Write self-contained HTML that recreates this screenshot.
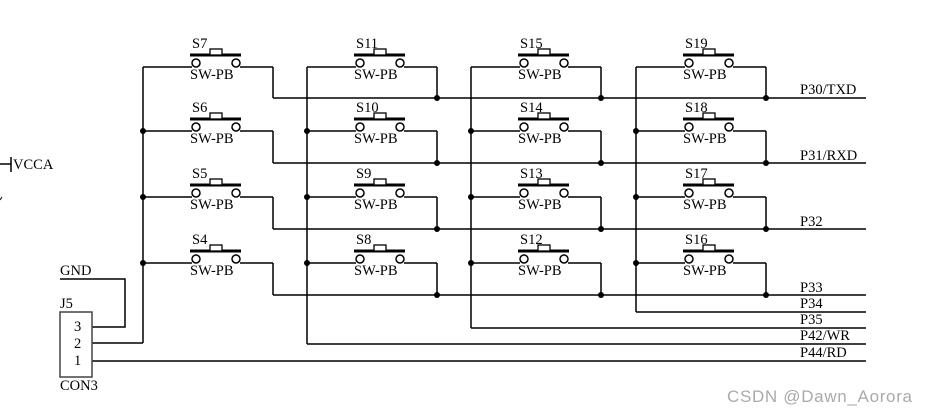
<!DOCTYPE html>
<html><head><meta charset="utf-8"><style>
html,body{margin:0;padding:0;background:#fff;}
svg{display:block;}
text{font-family:"Liberation Serif",serif;font-size:14.5px;fill:#000;}
</style></head><body>
<svg width="927" height="415" viewBox="0 0 927 415" xmlns="http://www.w3.org/2000/svg">
<defs>
<g id="sw" fill="none" stroke="#000">
<circle cx="4" cy="-4" r="4" stroke-width="1.5" fill="#fff"/>
<circle cx="44" cy="-4" r="4" stroke-width="1.5" fill="#fff"/>
<line x1="-2" y1="-12" x2="49" y2="-12" stroke-width="3"/>
<rect x="18" y="-18" width="12" height="6" stroke-width="1.3" fill="#fff"/>
<line x1="48" y1="0" x2="81" y2="0" stroke-width="1.5"/>
</g>
</defs>
<g stroke="#000" stroke-width="1.5" fill="none">
<line x1="273" y1="98" x2="866" y2="98"/>
<line x1="273" y1="163" x2="866" y2="163"/>
<line x1="273" y1="229" x2="866" y2="229"/>
<line x1="273" y1="295" x2="866" y2="295"/>
<line x1="143" y1="67" x2="143" y2="343"/>
<line x1="307" y1="67" x2="307" y2="344"/>
<line x1="471" y1="67" x2="471" y2="328"/>
<line x1="636" y1="67" x2="636" y2="312"/>
<line x1="636" y1="312" x2="866" y2="312"/>
<line x1="471" y1="328" x2="866" y2="328"/>
<line x1="307" y1="344" x2="866" y2="344"/>
<line x1="92" y1="343" x2="143" y2="343"/>
<line x1="92" y1="361" x2="866" y2="361"/>
<polyline points="60,279 125,279 125,327 92,327"/>
<rect x="60" y="312" width="32" height="65" stroke="#444"/>
<line x1="0" y1="164" x2="11" y2="164"/>
<line x1="11" y1="157" x2="11" y2="172"/>
<line x1="0" y1="200" x2="2" y2="197" stroke-width="1"/>
<line x1="143" y1="67" x2="192" y2="67"/><line x1="143" y1="131" x2="192" y2="131"/><line x1="143" y1="197" x2="192" y2="197"/><line x1="143" y1="263" x2="192" y2="263"/>
<line x1="307" y1="67" x2="356" y2="67"/><line x1="307" y1="131" x2="356" y2="131"/><line x1="307" y1="197" x2="356" y2="197"/><line x1="307" y1="263" x2="356" y2="263"/>
<line x1="471" y1="67" x2="520" y2="67"/><line x1="471" y1="131" x2="520" y2="131"/><line x1="471" y1="197" x2="520" y2="197"/><line x1="471" y1="263" x2="520" y2="263"/>
<line x1="636" y1="67" x2="685" y2="67"/><line x1="636" y1="131" x2="685" y2="131"/><line x1="636" y1="197" x2="685" y2="197"/><line x1="636" y1="263" x2="685" y2="263"/>
<line x1="273" y1="67" x2="273" y2="98"/><line x1="273" y1="131" x2="273" y2="163"/><line x1="273" y1="197" x2="273" y2="229"/><line x1="273" y1="263" x2="273" y2="295"/>
<line x1="437" y1="67" x2="437" y2="98"/><line x1="437" y1="131" x2="437" y2="163"/><line x1="437" y1="197" x2="437" y2="229"/><line x1="437" y1="263" x2="437" y2="295"/>
<line x1="601" y1="67" x2="601" y2="98"/><line x1="601" y1="131" x2="601" y2="163"/><line x1="601" y1="197" x2="601" y2="229"/><line x1="601" y1="263" x2="601" y2="295"/>
<line x1="766" y1="67" x2="766" y2="98"/><line x1="766" y1="131" x2="766" y2="163"/><line x1="766" y1="197" x2="766" y2="229"/><line x1="766" y1="263" x2="766" y2="295"/>
</g>
<use href="#sw" x="192" y="67"/><use href="#sw" x="192" y="131"/><use href="#sw" x="192" y="197"/><use href="#sw" x="192" y="263"/>
<use href="#sw" x="356" y="67"/><use href="#sw" x="356" y="131"/><use href="#sw" x="356" y="197"/><use href="#sw" x="356" y="263"/>
<use href="#sw" x="520" y="67"/><use href="#sw" x="520" y="131"/><use href="#sw" x="520" y="197"/><use href="#sw" x="520" y="263"/>
<use href="#sw" x="685" y="67"/><use href="#sw" x="685" y="131"/><use href="#sw" x="685" y="197"/><use href="#sw" x="685" y="263"/>
<g fill="#000">
<circle cx="143" cy="131" r="3"/><circle cx="143" cy="197" r="3"/><circle cx="143" cy="263" r="3"/>
<circle cx="307" cy="131" r="3"/><circle cx="307" cy="197" r="3"/><circle cx="307" cy="263" r="3"/>
<circle cx="471" cy="131" r="3"/><circle cx="471" cy="197" r="3"/><circle cx="471" cy="263" r="3"/>
<circle cx="636" cy="131" r="3"/><circle cx="636" cy="197" r="3"/><circle cx="636" cy="263" r="3"/>
<circle cx="437" cy="98" r="3"/><circle cx="601" cy="98" r="3"/><circle cx="766" cy="98" r="3"/>
<circle cx="437" cy="163" r="3"/><circle cx="601" cy="163" r="3"/><circle cx="766" cy="163" r="3"/>
<circle cx="437" cy="229" r="3"/><circle cx="601" cy="229" r="3"/><circle cx="766" cy="229" r="3"/>
<circle cx="437" cy="295" r="3"/><circle cx="601" cy="295" r="3"/><circle cx="766" cy="295" r="3"/>
</g>
<g>
<text x="192" y="48">S7</text><text x="192" y="112">S6</text><text x="192" y="178">S5</text><text x="192" y="244">S4</text>
<text x="356" y="48">S11</text><text x="356" y="112">S10</text><text x="356" y="178">S9</text><text x="356" y="244">S8</text>
<text x="520" y="48">S15</text><text x="520" y="112">S14</text><text x="520" y="178">S13</text><text x="520" y="244">S12</text>
<text x="685" y="48">S19</text><text x="685" y="112">S18</text><text x="685" y="178">S17</text><text x="685" y="244">S16</text>
<text x="190" y="79">SW-PB</text><text x="190" y="143">SW-PB</text><text x="190" y="209">SW-PB</text><text x="190" y="275">SW-PB</text>
<text x="354" y="79">SW-PB</text><text x="354" y="143">SW-PB</text><text x="354" y="209">SW-PB</text><text x="354" y="275">SW-PB</text>
<text x="518" y="79">SW-PB</text><text x="518" y="143">SW-PB</text><text x="518" y="209">SW-PB</text><text x="518" y="275">SW-PB</text>
<text x="683" y="79">SW-PB</text><text x="683" y="143">SW-PB</text><text x="683" y="209">SW-PB</text><text x="683" y="275">SW-PB</text>
</g>
<text x="800" y="94">P30/TXD</text>
<text x="800" y="160">P31/RXD</text>
<text x="800" y="226">P32</text>
<text x="800" y="292">P33</text>
<text x="800" y="308">P34</text>
<text x="800" y="324">P35</text>
<text x="800" y="340">P42/WR</text>
<text x="800" y="357">P44/RD</text>
<text x="13" y="169">VCCA</text>
<text x="60" y="275">GND</text>
<text x="60" y="308">J5</text>
<text x="60" y="390">CON3</text>
<text x="74" y="331">3</text>
<text x="74" y="348">2</text>
<text x="74" y="365">1</text>
<text x="727" y="402" style="font-family:'Liberation Sans',sans-serif;font-size:17px;fill:#aaa" textLength="185">CSDN @Dawn_Aorora</text>
</svg>
</body></html>
